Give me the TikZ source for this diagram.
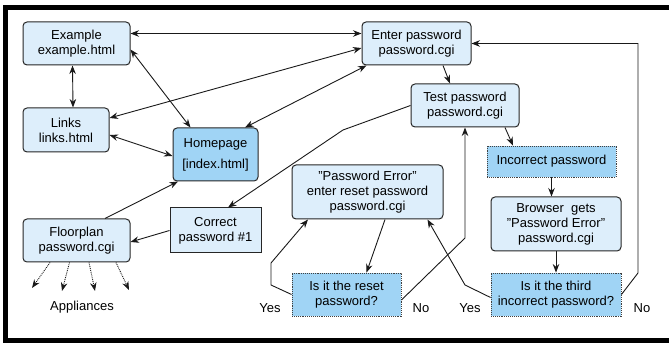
\documentclass[tikz,border=0pt]{standalone}
\usepackage{fontspec}
\setmainfont{Liberation Sans}
\usepackage{tikz}
\usetikzlibrary{
	positioning,
	arrows.meta
}
\definecolor{pagefill}{RGB}{221,238,251}
\definecolor{askfill}{RGB}{160,212,245}
\tikzset{
	pagebox/.style={draw=black!85,fill=pagefill,rounded corners=4pt,line width=1pt,
		align=center,inner sep=0pt,font=\fontsize{13}{15}\selectfont},
	plainbox/.style={pagebox,fill=pagefill,rounded corners=0pt},
	askbox/.style={draw=black!75,fill=askfill,densely dotted,line width=0.9pt,
		align=center,inner sep=0pt,font=\fontsize{13}{15}\selectfont},
	label/.style={inner sep=0pt,font=\fontsize{13}{15}\selectfont},
	go/.style={-{Stealth[length=8.5pt,width=6.5pt]},line width=0.9pt,draw=black!90},
	both/.style={{Stealth[length=8.5pt,width=6.5pt]}-{Stealth[length=8.5pt,width=6.5pt]},line width=0.9pt,draw=black!90}
}

\begin{document}
\begin{tikzpicture}[x=1pt,y=-1pt]
		\useasboundingbox (0,0) rectangle (669,344);
		\clip (0,0) rectangle (669,344);
		\draw[line width=5pt] (680,7.5) -- (5,7.5) -- (5,340.5) -- (680,340.5);

		\draw
			node[pagebox,minimum width=107pt,minimum height=43pt] (example) at (76.5,43.5) {Example\\example.html}
			node[pagebox,minimum width=86pt,minimum height=44pt]  (links)   at (66,130)    {Links\\links.html}
			node[pagebox,fill=askfill,minimum width=85pt,minimum height=53pt] (home) at (215.5,154.5) {Homepage\\[6pt]{[index.html]}}
			node[pagebox,minimum width=109pt,minimum height=43pt] (enter)   at (416.5,43.5) {Enter password\\password.cgi}
			node[pagebox,minimum width=108pt,minimum height=43pt] (testpw)  at (465,105.5) {Test password\\password.cgi}
			node[askbox,minimum width=129pt,minimum height=31pt]  (wrong)   at (551.5,161.5) {Incorrect password}
			node[pagebox,minimum width=130pt,minimum height=54pt] (browser) at (556,224) {Browser~~gets\\"Password Error"\\password.cgi}
			node[askbox,minimum width=130pt,minimum height=43pt]  (third)   at (556,294.5) {Is it the third\\incorrect password?}
			node[pagebox,minimum width=151pt,minimum height=54pt] (pwerror) at (367.5,192) {"Password Error"\\enter reset password\\password.cgi}
			node[askbox,minimum width=109pt,minimum height=43pt]  (resetq)  at (346.5,294.5) {Is it the reset\\password?}
			node[plainbox,minimum width=91pt,minimum height=45pt] (correct) at (215.5,230.5) {Correct\\password \#1}
			node[pagebox,minimum width=107pt,minimum height=43pt] (floor)   at (76.5,240.5) {Floorplan\\password.cgi}

			node[label] (appl) at (82,307)  {Appliances}
			node[label] (yes1) at (270,308) {Yes}
			node[label] (no1)  at (421,308) {No}
			node[label] (yes2) at (470,308) {Yes}
			node[label] (no2)  at (642,308) {No}
		;

		% bend points
		\coordinate (b1) at (343,130);
		\coordinate (b2) at (638,273);
		\coordinate (b3) at (465,285);
		\coordinate (b4) at (465,238);
		\coordinate (b5) at (271,285);
		\coordinate (b6) at (271,263);
		\coordinate (app1) at (32,288);
		\coordinate (app2) at (62,291);
		\coordinate (app3) at (95,291);
		\coordinate (app4) at (129,290);

		% links between pages
		\draw[both] ([yshift=10pt]example.east) -- ([yshift=10pt]enter.west);
		\draw[both] ([xshift=-4pt]example.south) -- ([xshift=7pt]links.north);
		\draw[both] ([yshift=-6pt]example.east) -- ([xshift=-25pt]home.north);
		\draw[both] ([yshift=12pt]links.east) -- ([yshift=-4.5pt]enter.west);
		\draw[both] ([yshift=-5pt]links.east) -- ([yshift=-1.5pt]home.west);
		\draw[both] ([xshift=29.5pt]home.north) -- ([xshift=-50pt]enter.south);

		% password checks
		\draw[go] ([xshift=26.5pt]enter.south) -- ([xshift=-15pt]testpw.north);
		\draw[go] (testpw.west) -- (b1) -- ([xshift=12.5pt]correct.north);
		\draw[go] ([xshift=40pt]testpw.south) -- ([xshift=-38.5pt]wrong.north);
		\draw[go] (wrong.south) -- (wrong.south |- browser.north);
		\draw[go] (browser.south) -- (third.north);
		\draw[go] (third.east) -- (b2) |- (enter.east);
		\draw[go] ([yshift=-3pt]third.west) -- (b3) -- ([xshift=60pt]pwerror.south);
		\draw[go] ([yshift=-5.5pt]resetq.east) -- (b4) -- (testpw.south);
		\draw[go] (resetq.west) -- (b5) -- (b6) -- ([xshift=-59.5pt]pwerror.south);
		\draw[go] ([xshift=17.5pt]pwerror.south) -- ([xshift=20pt]resetq.north);
		\draw[go] (correct.west) -- ([yshift=-1.5pt]floor.east);
		\draw[go] ([xshift=28.5pt]floor.north) -- ([xshift=-37.5pt]home.south);

		% appliances
		\foreach \dx/\tgt in {-26.5/app1,-7/app2,12.5/app3,39.5/app4}
			\draw[go,densely dotted] ([xshift=\dx pt]floor.south) -- (\tgt);
	\end{tikzpicture}
\end{document}
